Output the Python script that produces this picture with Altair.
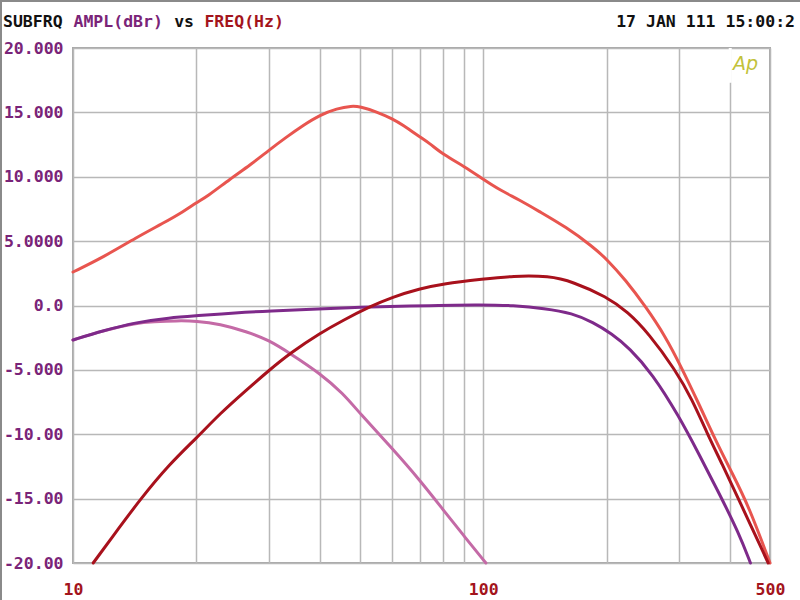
import altair as alt
import pandas as pd

# ---- data (frequency in Hz, amplitude in dBr) ----
salmon_f = [10, 11.85, 14.3, 16.6, 18.6, 20, 21.2, 24.2, 27, 30, 33.2, 36.4, 40, 44, 47.8, 50,
            55, 60, 63.8, 70, 74, 80, 90, 100, 110, 122.6, 137, 159, 184.5, 200, 222, 249,
            278, 303, 335, 368, 404, 444, 500]
salmon_db = [2.6, 3.75, 5.3, 6.4, 7.3, 8.0, 8.45, 9.85, 10.9, 12.05, 13.1, 14.0, 14.8, 15.3, 15.5, 15.45,
             15.05, 14.5, 14.0, 13.1, 12.6, 11.7, 10.8, 9.8, 8.95, 8.2, 7.3, 6.1, 4.6, 3.6, 2.0, -0.1,
             -2.4, -4.7, -7.6, -10.45, -13.0, -15.6, -20.0]

darkred_f = [11.2, 13.0, 14.55, 17.2, 20, 22.8, 26.5, 30, 34, 40, 45.5, 52.8, 60, 70, 80, 100,
             118, 145, 165, 200, 225, 253, 294, 323, 351, 382, 420, 495]
darkred_db = [-20.0, -17.2, -15.1, -12.3, -10.3, -8.4, -6.55, -5.05, -3.65, -2.15, -1.15, -0.1, 0.65, 1.3, 1.7, 2.05,
              2.3, 2.3, 1.85, 0.68, -0.5, -2.16, -5.0, -7.3, -9.9, -12.3, -15.1, -20.0]

purple_f = [10, 11.85, 14.3, 17.2, 20, 25, 30, 40, 50, 64, 100, 118, 141, 165, 185, 206, 227,
            258, 300, 335, 376, 420, 448]
purple_db = [-2.68, -1.95, -1.3, -0.95, -0.8, -0.56, -0.43, -0.27, -0.14, -0.04, 0.08, 0.0, -0.22, -0.6, -1.3, -2.2, -3.3,
             -5.27, -8.6, -11.5, -14.6, -17.7, -20.0]

pink_f = [10, 11.85, 14.3, 15.7, 17.9, 20, 22.8, 26.5, 30, 34, 40, 45.5, 50, 60, 70, 80, 90, 101.5]
pink_db = [-2.68, -1.95, -1.35, -1.26, -1.18, -1.2, -1.44, -2.03, -2.68, -3.77, -5.27, -6.82, -8.37,
           -11.1, -13.55, -15.9, -17.95, -20.0]

x_ticks = [10, 20, 30, 40, 50, 60, 70, 80, 90, 100, 200, 300, 400, 500]
x_labels = {10: "10", 100: "100", 500: "500"}
y_ticks = [-20, -15, -10, -5, 0, 5, 10, 15, 20]
y_labels = ["-20.00", "-15.00", "-10.00", "-5.000", "0.0", "5.0000", "10.000", "15.000", "20.000"]

MONO = "DejaVu Sans Mono"
PURPLE_TXT = "#7a2478"
RED_TXT = "#a3141c"
GRID = "#b8b8b8"

x_label_expr = " : ".join(
    [f"datum.value == {k} ? '{v}'" for k, v in x_labels.items()]) + " : ''"
y_label_expr = " : ".join(
    [f"datum.value == {t} ? '{l}'" for t, l in zip(y_ticks, y_labels)]) + " : ''"

x_scale = alt.Scale(type="log", domain=[10, 500], nice=False)
y_scale = alt.Scale(domain=[-20, 20], nice=False)

x_enc = alt.X(
    "f:Q", scale=x_scale,
    axis=alt.Axis(values=x_ticks, labelExpr=x_label_expr, title=None, grid=True,
                  gridColor=GRID, gridWidth=1.5, ticks=False, tickSize=0, domain=False,
                  labelFont=MONO, labelFontSize=16.5, labelFontWeight="bold",
                  labelColor=RED_TXT, labelPadding=18, labelFlush=False, labelOverlap=False),
)
y_enc = alt.Y(
    "db:Q", scale=y_scale,
    axis=alt.Axis(values=y_ticks, labelExpr=y_label_expr, title=None, grid=True,
                  gridColor=GRID, gridWidth=1.5, ticks=False, tickSize=0, domain=False,
                  labelFont=MONO, labelFontSize=16.5, labelFontWeight="bold",
                  labelColor=PURPLE_TXT, labelPadding=10, labelFlush=False, labelOverlap=False),
)


def curve(fs, dbs, color):
    df = pd.DataFrame({"f": fs, "db": dbs})
    return alt.Chart(df).mark_line(color=color, strokeWidth=3, interpolate="basis",
                                   strokeCap="round").encode(x=x_enc, y=y_enc)


one = pd.DataFrame({"k": [0]})


def label(text, x, y, color, align="left", font=MONO, size=16.5, weight="bold", style="normal"):
    return alt.Chart(one).mark_text(
        text=text, align=align, baseline="alphabetic", font=font, fontSize=size,
        fontWeight=weight, fontStyle=style, color=color
    ).encode(x=alt.value(x), y=alt.value(y))


# gap in the 400 Hz gridline under the "Ap" logo
gap = alt.Chart(pd.DataFrame({"f": [400], "db": [20], "db2": [17.3]})).mark_rule(
    color="white", strokeWidth=3
).encode(x=alt.X("f:Q", scale=x_scale), y=alt.Y("db:Q", scale=y_scale), y2="db2:Q")

# thin outer frame on the left and top of the picture
frame_left = alt.Chart(one).mark_rule(color="#8a8a8a", strokeWidth=2).encode(
    x=alt.value(-72), y=alt.value(-48), y2=alt.value(552))
frame_top = alt.Chart(one).mark_rule(color="#8a8a8a", strokeWidth=2).encode(
    x=alt.value(-73), x2=alt.value(727), y=alt.value(-47))

cw = 10.07  # monospace advance
t0 = -70
texts = [
    label("SUBFRQ", t0, -21, "#111111"),
    label("AMPL(dBr)", t0 + 7 * cw, -21, PURPLE_TXT),
    label("vs", t0 + 17 * cw, -21, "#111111"),
    label("FREQ(Hz)", t0 + 20 * cw, -21, RED_TXT),
    label("17 JAN 111 15:00:2", 722, -21, "#111111", align="right"),
    label("Ap", 660, 22, "#c2c23a", font="DejaVu Sans", size=19, weight="normal", style="italic"),
]

chart = alt.layer(
    gap,
    curve(pink_f, pink_db, "#c46aa6"),
    curve(purple_f, purple_db, "#7e2a8a"),
    curve(salmon_f, salmon_db, "#e8554f"),
    curve(darkred_f, darkred_db, "#a8111c"),
    frame_left, frame_top,
    *texts,
).properties(
    width=697, height=515,
    autosize=alt.AutoSizeParams(type="none"),
    padding={"left": 73, "top": 48, "right": 30, "bottom": 37},
    background="white",
).configure_view(stroke="#a8a8a8", strokeWidth=2)

chart.save("out.html", embed_options={"renderer": "svg", "actions": False})
